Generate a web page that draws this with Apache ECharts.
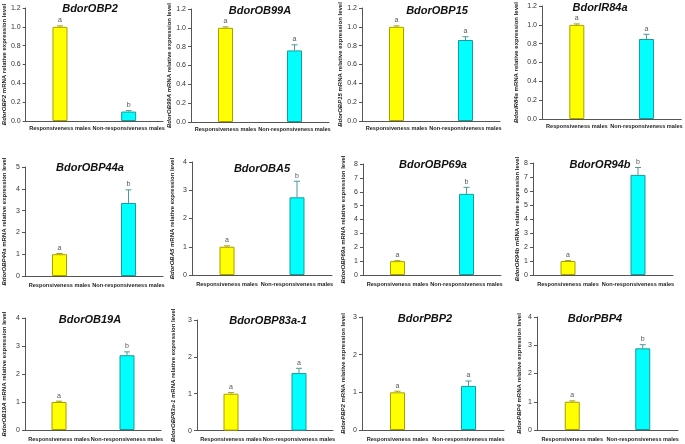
<!DOCTYPE html>
<html><head><meta charset="utf-8">
<script src="https://cdn.jsdelivr.net/npm/echarts@6/dist/echarts.min.js"></script>
<style>html,body{margin:0;padding:0;background:#fff}#c{width:685px;height:444px}</style>
</head><body><div id="c"></div>
<script>
const genes = ['BdorOBP2','BdorOB99A','BdorOBP15','BdorIR84a','BdorOBP44a','BdorOBA5','BdorOBP69a','BdorOR94b','BdorOB19A','BdorOBP83a-1','BdorPBP2','BdorPBP4'];
const categories = ['Responsiveness males','Non-responsiveness males'];
const responsive = [1,1,1,1,1,1,1,1,1,1,1,1];
const responsiveErr = [0.01,0.01,0.01,0.01,0.03,0.03,0.03,0.03,0.03,0.03,0.03,0.03];
const nonResponsive = [0.10,0.76,0.86,0.85,3.35,2.75,5.85,7.15,2.67,1.56,1.17,2.89];
const nonResponsiveErr = [0.01,0.06,0.035,0.05,0.6,0.57,0.47,0.53,0.12,0.13,0.13,0.13];
const lettersResp = ['a','a','a','a','a','a','a','a','a','a','a','a'];
const lettersNon = ['b','a','a','a','b','b','b','b','b','a','a','b'];
const yMax = [1.2,1.2,1.2,1.2,5,4,8,8,4,3,3,4];
const yInterval = [0.2,0.2,0.2,0.2,1,1,1,1,1,1,1,1];

// layout (pixels)
const gridL = [21,191,362,542, 21,192,363,533, 21,197,362,537];
const gridW = [142,138,138,142, 142,140,138,140, 140,136,142,141];
const gridT = [8,9,8,5, 167,162,164,163, 318,320,317,317];
const gridB = [121,122,121,119, 276,275,275,275, 430,431,430,430];
const nameGap = [16,16,14,23, 18,17,17,11, 18,21,16,15];
const titleX = [90,260,437,600, 90,262,433,600, 90,268,425,595];
const titleY = [9,11,11,8, 168,169,165,165, 320,321,319,319];
const xLabMargin = [4,4,4,4,6,6,6,6,6,6,6,6];

const FONT = 'Arial, "Liberation Sans", sans-serif';
const chart = echarts.init(document.getElementById('c'), null, {renderer:'canvas'});
const grid=[], xAxis=[], yAxis=[], series=[], graphic=[];
genes.forEach((g,i)=>{
  grid.push({left:gridL[i], top:gridT[i], width:gridW[i], height:gridB[i]-gridT[i], containLabel:false});
  xAxis.push({type:'category', gridIndex:i, data:categories,
    axisLine:{lineStyle:{color:'#555',width:1}},
    axisTick:{alignWithLabel:true,length:3,lineStyle:{color:'#555'}},
    axisLabel:{fontSize:5.6,fontWeight:'bold',color:'#222',fontFamily:FONT,margin:xLabMargin[i],interval:0}});
  yAxis.push({type:'value', gridIndex:i, min:0, max:yMax[i], interval:yInterval[i],
    splitLine:{show:false},
    axisLine:{show:true,lineStyle:{color:'#555',width:1}},
    axisTick:{show:true,length:3,lineStyle:{color:'#555'}},
    axisLabel:{fontSize:7,color:'#333',fontFamily:FONT,margin:5,
      formatter: v => yInterval[i] < 1 ? v.toFixed(1) : String(Math.round(v))},
    name:'{g|'+g+'} mRNA relative expression level', nameLocation:'middle', nameRotate:90, nameGap:nameGap[i],
    nameTextStyle:{fontSize:6,fontWeight:'bold',color:'#222',fontFamily:FONT,
      rich:{g:{fontSize:6,fontWeight:'bold',fontStyle:'italic',color:'#222',fontFamily:FONT}}}});
  series.push({type:'bar', xAxisIndex:i, yAxisIndex:i, barWidth:15,
    data:[
      {value:responsive[i], itemStyle:{color:'#ffff00',borderColor:'#a8a000',borderWidth:1}},
      {value:nonResponsive[i], itemStyle:{color:'#00ffff',borderColor:'#1a9a9a',borderWidth:1}}
    ]});
  const vals=[responsive[i],nonResponsive[i]], errs=[responsiveErr[i],nonResponsiveErr[i]], lets=[lettersResp[i],lettersNon[i]];
  const cols=['#a8a000','#4a9a9a'];
  series.push({type:'custom', xAxisIndex:i, yAxisIndex:i, z:5,
    data:[[0,vals[0],vals[0]+errs[0]],[1,vals[1],vals[1]+errs[1]]],
    encode:{x:0,y:2},
    renderItem:(params,api)=>{
      const k=params.dataIndex;
      const b=api.coord([api.value(0),api.value(1)]);
      const t=api.coord([api.value(0),api.value(2)]);
      return {type:'group',children:[
        {type:'line',shape:{x1:b[0],y1:b[1],x2:t[0],y2:t[1]},style:{stroke:cols[k],lineWidth:1}},
        {type:'line',shape:{x1:t[0]-3,y1:t[1],x2:t[0]+3,y2:t[1]},style:{stroke:cols[k],lineWidth:1}},
        {type:'text',x:t[0],y:t[1]-2,style:{text:lets[k],fill:'#555',fontSize:7,fontFamily:FONT,textAlign:'center',textVerticalAlign:'bottom'}}
      ]};
    }});
  graphic.push({type:'text', x:titleX[i], y:titleY[i],
    style:{text:g, fill:'#111', font:'italic bold 11px '+FONT, textAlign:'center', textVerticalAlign:'middle'}});
});
chart.setOption({animation:false, grid, xAxis, yAxis, series, graphic});
</script></body></html>
